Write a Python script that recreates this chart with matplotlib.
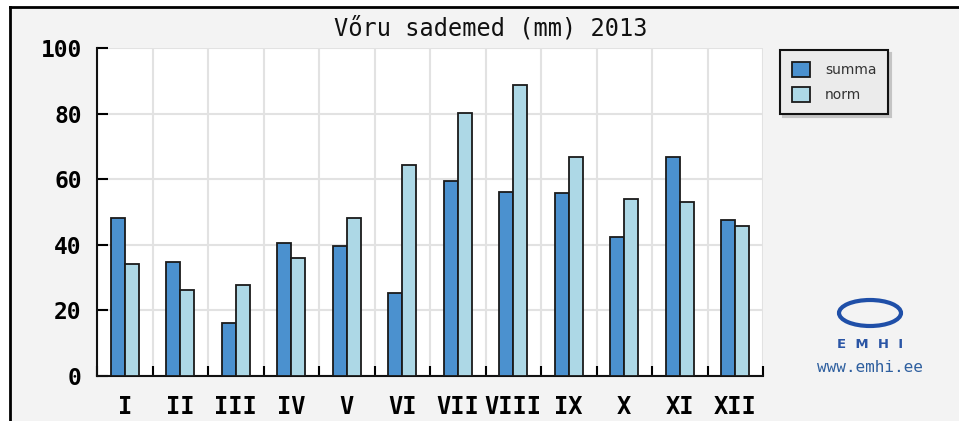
import matplotlib.pyplot as plt
from matplotlib.patches import Rectangle, Ellipse
from matplotlib.lines import Line2D
import numpy as np

months = ['I', 'II', 'III', 'IV', 'V', 'VI', 'VII', 'VIII', 'IX', 'X', 'XI', 'XII']
summa = [48.1, 34.8, 16.1, 40.5, 39.5, 25.2, 59.4, 56.1, 55.7, 42.3, 66.9, 47.6]
norm = [34.1, 26.2, 27.7, 35.9, 48.1, 64.2, 80.1, 88.7, 66.9, 54.0, 53.0, 45.8]
yticks = [0, 20, 40, 60, 80, 100]

W, H = 959, 421
fig = plt.figure(figsize=(W / 100, H / 100), dpi=100)
fig.patch.set_facecolor('white')

# outer frame (only top and left edges visible)
fig.patches.append(Rectangle((10 / W, 0), 1, 1 - 7 / H, transform=fig.transFigure,
                             facecolor='#f3f3f3', edgecolor='none', zorder=-10))
fig.lines.append(Line2D([10 / W, 1], [1 - 7 / H, 1 - 7 / H], transform=fig.transFigure,
                        color='black', lw=2))
fig.lines.append(Line2D([10 / W, 10 / W], [0, 1 - 7 / H], transform=fig.transFigure,
                        color='black', lw=2))

ax = fig.add_axes([97 / W, 1 - 376 / H, (763 - 97) / W, (376 - 48) / H])
ax.set_facecolor('white')

x = np.arange(len(months))
w = 0.25
ax.bar(x - w / 2, summa, w, color='#4b91cf', edgecolor='#1a1a1a', lw=1.3, label='summa', zorder=3)
ax.bar(x + w / 2, norm, w, color='#add8e6', edgecolor='#1a1a1a', lw=1.3, label='norm', zorder=3)

ax.set_xlim(-0.5, len(months) - 0.5)
ax.set_ylim(0, 100)
ax.set_yticks(yticks)
ax.set_xticks(x)
ax.set_xticklabels(months)
ax.set_xticks(np.arange(-0.5, len(months)), minor=True)

ax.grid(True, axis='y', which='major', color='#e2e2e2', lw=1.5, zorder=0)
ax.grid(True, axis='x', which='minor', color='#e2e2e2', lw=1.5, zorder=0)
ax.set_axisbelow(True)

for s in ['top', 'right']:
    ax.spines[s].set_visible(False)
for s in ['left', 'bottom']:
    ax.spines[s].set_linewidth(1.5)
    ax.spines[s].set_color('#111111')

ax.tick_params(axis='y', direction='in', length=8, width=1.5, pad=11)
ax.tick_params(axis='x', which='major', length=0, pad=14)
ax.tick_params(axis='x', which='minor', direction='in', length=7, width=1.5)

for lab in ax.get_yticklabels():
    lab.set_fontfamily('DejaVu Sans Mono')
    lab.set_fontweight('bold')
    lab.set_fontsize(16.5)
for lab in ax.get_xticklabels():
    lab.set_fontfamily('DejaVu Sans Mono')
    lab.set_fontweight('bold')
    lab.set_fontsize(17)

fig.text(491 / W, 1 - 28 / H, 'Vőru sademed (mm) 2013', ha='center', va='center',
         family='DejaVu Sans Mono', fontsize=17, color='#111111')

leg = fig.legend(loc='upper left', bbox_to_anchor=(780 / W, 1 - 50 / H),
                 fancybox=False, edgecolor='#111111', facecolor='#ebebeb', framealpha=1,
                 shadow={'color': '#c4c4c4', 'alpha': 1},
                 fontsize=10, handlelength=1.3, handleheight=1.3, handletextpad=1.1,
                 labelspacing=0.7, borderpad=0.85, borderaxespad=0)
leg.get_frame().set_linewidth(1.5)
for t in leg.get_texts():
    t.set_color('#333333')

# EMHI logo
fig.patches.append(Ellipse((870 / W, 1 - 313 / H), 62 / W, 26 / H, transform=fig.transFigure,
                           facecolor='none', edgecolor='#1f4fa8', lw=3))
fig.text(870 / W, 1 - 345 / H, 'E  M  H  I', ha='center', va='center',
         fontsize=9.5, fontweight='bold', color='#2a55a5')
fig.text(870 / W, 1 - 367 / H, 'www.emhi.ee', ha='center', va='center',
         family='DejaVu Sans Mono', fontsize=11.5, color='#2e5f9f')

fig.savefig('out.png', dpi=100)
